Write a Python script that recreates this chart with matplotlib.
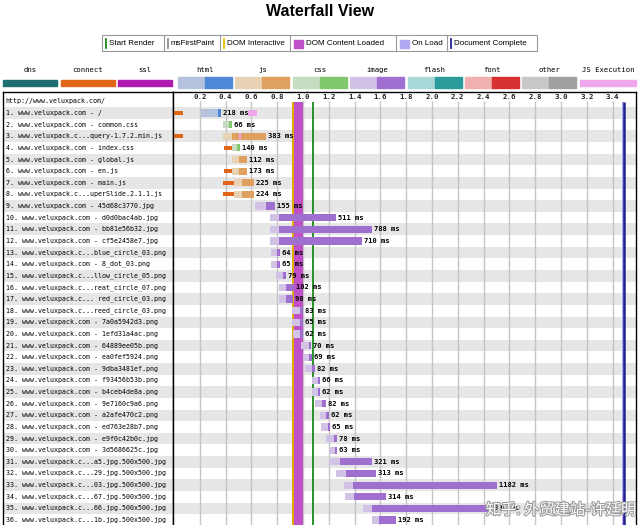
import matplotlib.pyplot as plt
import matplotlib.patheffects as pe
import numpy as np

# request rows (label, type, start / first byte / end in seconds, duration label in ms)
names = [
    "www.veluxpack.com - /",
    "www.veluxpack.com - common.css",
    "www.veluxpack.c...query-1.7.2.min.js",
    "www.veluxpack.com - index.css",
    "www.veluxpack.com - global.js",
    "www.veluxpack.com - en.js",
    "www.veluxpack.com - main.js",
    "www.veluxpack.c...uperSlide.2.1.1.js",
    "www.veluxpack.com - 45d68c3770.jpg",
    "www.veluxpack.com - d0d0bac4ab.jpg",
    "www.veluxpack.com - bb81e56b32.jpg",
    "www.veluxpack.com - cf5e2458e7.jpg",
    "www.veluxpack.c...blue_circle_03.png",
    "www.veluxpack.com - 8_dot_03.png",
    "www.veluxpack.c...llow_circle_05.png",
    "www.veluxpack.c...reat_circle_07.png",
    "www.veluxpack.c... red_circle_03.png",
    "www.veluxpack.c...reed_circle_03.png",
    "www.veluxpack.com - 7a0a5942d3.png",
    "www.veluxpack.com - 1efd31a4ac.png",
    "www.veluxpack.com - 64889ee05b.png",
    "www.veluxpack.com - ea0fef5924.png",
    "www.veluxpack.com - 9dba3481ef.png",
    "www.veluxpack.com - f93456b53b.png",
    "www.veluxpack.com - b4ceb4de8a.png",
    "www.veluxpack.com - 9e7160c9a6.png",
    "www.veluxpack.com - a2afe470c2.png",
    "www.veluxpack.com - ed763e28b7.png",
    "www.veluxpack.com - e9f0c42b0c.jpg",
    "www.veluxpack.com - 3d5686625c.jpg",
    "www.veluxpack.c...a5.jpg.500x500.jpg",
    "www.veluxpack.c...29.jpg.500x500.jpg",
    "www.veluxpack.c...03.jpg.500x500.jpg",
    "www.veluxpack.c...67.jpg.500x500.jpg",
    "www.veluxpack.c...66.jpg.500x500.jpg",
    "www.veluxpack.c...1b.jpg.500x500.jpg",
]
kinds = ["html", "css", "js", "css", "js", "js", "js", "js"] + ["image"] * 28
start = [0.206, 0.379, 0.379, 0.448, 0.448, 0.448, 0.464, 0.464, 0.626, 0.747,
         0.747, 0.747, 0.755, 0.755, 0.788, 0.811, 0.811, 0.917, 0.917, 0.922,
         0.987, 0.999, 1.012, 1.072, 1.072, 1.092, 1.128, 1.136, 1.175, 1.198,
         1.198, 1.252, 1.316, 1.324, 1.463, 1.536]
first_byte = [0.340, 0.430, 0.446, 0.490, 0.500, 0.500, 0.530, 0.530, 0.711, 0.814,
              0.814, 0.814, 0.800, 0.800, 0.845, 0.870, 0.870, 0.975, 0.975, 0.978,
              1.045, 1.050, 1.070, 1.115, 1.115, 1.150, 1.180, 1.190, 1.240, 1.245,
              1.283, 1.335, 1.386, 1.399, 1.536, 1.592]
end = [0.367, 0.448, 0.711, 0.510, 0.566, 0.566, 0.618, 0.618, 0.781, 1.257,
       1.538, 1.461, 0.819, 0.819, 0.866, 0.927, 0.922, 0.997, 0.997, 0.997,
       1.064, 1.069, 1.090, 1.134, 1.134, 1.175, 1.200, 1.211, 1.262, 1.262,
       1.532, 1.566, 2.506, 1.644, 2.463, 1.721]
ms = [218, 66, 383, 140, 112, 173, 225, 224, 155, 511, 788, 710, 64, 65, 79, 102,
      98, 83, 65, 62, 70, 69, 82, 66, 62, 82, 62, 65, 78, 63, 321, 313, 1182, 314,
      996, 192]

# connection setup bars
conn_rows = [1, 3, 4, 6, 7, 8]
conn_start = [0.0, 0.0, 0.386, 0.386, 0.381, 0.381]
conn_end = [0.07, 0.07, 0.448, 0.448, 0.464, 0.464]

# js execution marks
js_rows = [1, 3]
js_start = [0.576, 0.505]
js_end = [0.641, 0.520]

# page events (seconds)
dom_interactive = 0.92
dcl_start, dcl_end = 0.93, 1.0
start_render = 1.077
onload_start, onload_end = 3.476, 3.487
doc_complete = 3.492

ticks = [0.2, 0.4, 0.6, 0.8, 1.0, 1.2, 1.4, 1.6, 1.8, 2.0, 2.2, 2.4, 2.6, 2.8,
         3.0, 3.2, 3.4]

type_names = ["html", "js", "css", "image", "flash", "font", "other"]
type_light = ["#b4c2de", "#e8d2b4", "#c6dcc0", "#d2c2e6", "#a8d8d8", "#f0b0b0", "#c8c8c8"]
type_dark = ["#5088d8", "#e0a060", "#80c86e", "#a070d0", "#2a9c9c", "#d83030", "#a0a0a0"]
conn_names = ["dns", "connect", "ssl"]
conn_colors = ["#1d6e6e", "#e0661a", "#b01cb0"]
js_color = "#f0a8ec"

events = ["Start Render", "msFirstPaint", "DOM Interactive", "DOM Content Loaded",
          "On Load", "Document Complete"]


def fx(px):
    return px / 640


def fy(py):
    return 1 - py / 525


def main():
    fig = plt.figure(figsize=(6.4, 5.25), dpi=100)
    mono = "DejaVu Sans Mono"

    # decoration layer in pixel units
    deco = fig.add_axes([0, 0, 1, 1])
    deco.set_xlim(0, 640)
    deco.set_ylim(525, 0)
    deco.axis("off")

    deco.text(320, 11, "Waterfall View", ha="center", va="center",
              fontsize=11.5, fontweight="bold", family="Liberation Sans")

    # event legend
    cells = [102, 164, 220, 290, 396, 447, 537]
    deco.add_patch(plt.Rectangle((cells[0], 35), cells[-1] - cells[0], 16,
                                 fill=False, ec="#9a9a9a", lw=0.8))
    for x in cells[1:-1]:
        deco.plot([x, x], [35, 51], color="#9a9a9a", lw=0.8)
    marks = ["#1a8a1a", "#909090", "#e8c000", "#c050c8", "#b0a8f0", "#202090"]
    for i, ev in enumerate(events):
        x0 = cells[i] + 4
        if ev in ("DOM Content Loaded", "On Load"):
            deco.add_patch(plt.Rectangle((x0, 39.5), 9, 8, color=marks[i]))
            tx = x0 + 12
        else:
            deco.plot([x0, x0], [38.5, 48], color=marks[i], lw=1.3)
            tx = x0 + 3
        deco.text(tx, 43.5, ev, va="center", fontsize=5.8, family="Liberation Sans")

    # type colour legend
    for i, nm in enumerate(conn_names):
        x0 = 3 + i * 57.5
        deco.text(x0 + 27, 70, nm, ha="center", va="center", fontsize=5.2, family=mono)
        deco.add_patch(plt.Rectangle((x0, 79.5), 54, 6, color=conn_colors[i]))
    for i, nm in enumerate(type_names):
        x0 = 178 + i * 57.4
        deco.text(x0 + 27, 70, nm, ha="center", va="center", fontsize=5.2, family=mono)
        deco.add_patch(plt.Rectangle((x0, 77), 27, 11, color=type_light[i]))
        deco.add_patch(plt.Rectangle((x0 + 27, 77), 27, 11, color=type_dark[i]))
    deco.text(608, 70, "JS Execution", ha="center", va="center", fontsize=5.2, family=mono)
    deco.add_patch(plt.Rectangle((580, 79.5), 56, 6, color=js_color))

    n = len(names)
    rows = np.arange(1, n + 1)
    ylim = (36.43, -0.806)

    # left label panel
    ax_lab = fig.add_axes([fx(3), fy(525), 170 / 640, 433 / 525])
    ax_lab.set_xlim(0, 170)
    ax_lab.set_ylim(*ylim)
    # timeline panel
    ax = fig.add_axes([fx(173), fy(525), 463 / 640, 433 / 525])
    ax.set_xlim((173 - 174) / 129, (636 - 174) / 129)
    ax.set_ylim(*ylim)

    for a in (ax_lab, ax):
        a.set_xticks([])
        a.set_yticks([])
        a.spines["bottom"].set_visible(False)
        for s in ("top", "left", "right"):
            a.spines[s].set_linewidth(1.0)
        for r in rows[::2]:
            a.axhspan(r - 0.5, r + 0.5, color="#e6e6e6", lw=0, zorder=0)

    ax_lab.text(2, 0, "http://www.veluxpack.com/", va="center", fontsize=4.8, family=mono)
    for r, nm in zip(rows, names):
        ax_lab.text(3, r, f"{r}. {nm}", va="center", fontsize=4.8, family=mono)

    # grid and tick labels
    ax.vlines(ticks, 0.0, 37, color="#c4c4c4", lw=1, zorder=1)
    for t in ticks:
        ax.text(t, -0.38, f"{t:.1f}", ha="center", va="center", fontsize=5.3,
                family=mono, fontweight="bold", color="#222222")

    # page events
    top = (ylim[0] - 0.05) / (ylim[0] - ylim[1])
    ax.axvspan(dcl_start, dcl_end, ymin=0, ymax=top, color="#c050c8", lw=0, zorder=2)
    ax.vlines(dom_interactive, 0.05, 37, color="#e0a800", lw=1.4, zorder=2)
    ax.vlines(start_render, 0.05, 37, color="#1a8a1a", lw=1.3, zorder=2)
    ax.axvspan(onload_start, onload_end, ymin=0, ymax=top, color="#b0a8f0", lw=0, zorder=2)
    ax.vlines(doc_complete, 0.05, 37, color="#202090", lw=1.8, zorder=2)

    # requests
    h = 0.62
    for i, r in enumerate(rows):
        k = type_names.index(kinds[i])
        ax.barh(r, first_byte[i] - start[i], left=start[i], height=h,
                color=type_light[k], lw=0, zorder=3)
        ax.barh(r, end[i] - first_byte[i], left=first_byte[i], height=h,
                color=type_dark[k], lw=0, zorder=3)
        ax.text(end[i] + 0.015, r, f"{ms[i]} ms", va="center", fontsize=5.1,
                family=mono, fontweight="bold", zorder=4)
    ax.barh(conn_rows, np.array(conn_end) - np.array(conn_start), left=conn_start,
            height=0.35, color=conn_colors[1], lw=0, zorder=3)
    ax.barh(js_rows, np.array(js_end) - np.array(js_start), left=js_start,
            height=0.5, color=js_color, lw=0, zorder=3)

    # watermark
    deco2 = fig.add_axes([0, 0, 1, 1], facecolor="none")
    deco2.set_xlim(0, 640)
    deco2.set_ylim(525, 0)
    deco2.axis("off")
    deco2.text(636, 510, "知乎: 外贸建站-许廷明", ha="right", va="center", fontsize=11,
               color="white", family=["Noto Sans CJK SC", "DejaVu Sans"],
               path_effects=[pe.withStroke(linewidth=1.5, foreground="#9a9a9a")])

    plt.savefig("out.png", dpi=100)


if __name__ == "__main__":
    main()
